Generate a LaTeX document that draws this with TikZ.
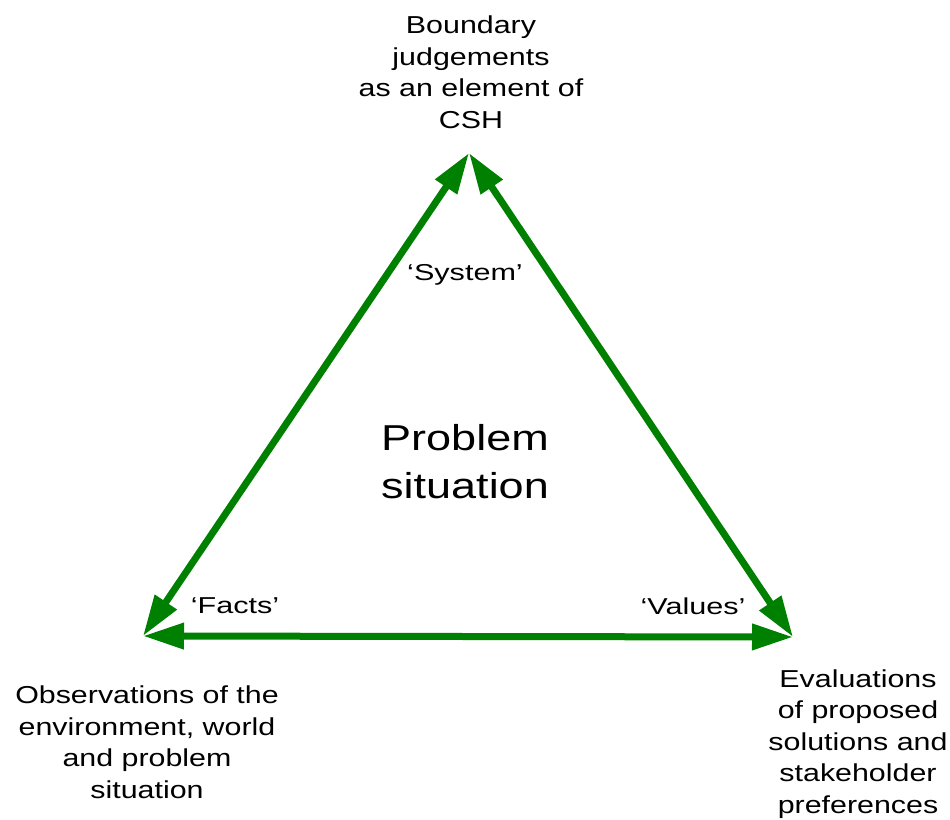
\documentclass[tikz,border=0pt]{standalone}
\usepackage{fontspec}
\setmainfont{Liberation Sans}
\newfontfamily\cornerfont[FakeStretch=1.24]{Liberation Sans}
\newfontfamily\lblfont[FakeStretch=1.33]{Liberation Sans}
\newfontfamily\bigfont[FakeStretch=1.25]{Liberation Sans}
\usetikzlibrary{arrows.meta}
\definecolor{arrgreen}{RGB}{0,128,0}
\tikzset{
  edge/.style={draw=arrgreen, line width=7pt, {Triangle[length=41pt,width=25pt]}-{Triangle[length=41pt,width=25pt]}},
  corner/.style={align=center, font=\cornerfont\fontsize{24.5}{31.5}\selectfont, inner sep=0pt},
  lbl/.style={font=\lblfont\fontsize{23}{26}\selectfont, inner sep=0pt},
  big/.style={align=center, font=\bigfont\fontsize{36}{48}\selectfont, inner sep=0pt}
}
\begin{document}
\begin{tikzpicture}[x=1pt,y=-1pt]
\useasboundingbox (0,0) rectangle (950,819);
\coordinate (top) at (469,153);
\coordinate (bl) at (143,636);
\coordinate (br) at (793,637);
\draw[edge] (bl) -- (top);
\draw[edge] (br) -- (top);
\draw[edge] (bl) -- (br);
\node[corner] (tl) at (471,72) {Boundary\\judgements\\as an element of\\CSH};
\node[corner] (bll) at (147,742) {Observations of the\\environment, world\\and problem\\situation};
\node[corner] (brl) at (858,744) {Evaluations\\of proposed\\solutions and\\stakeholder\\preferences};
\node[lbl] (sys) at (465,275) {‘System’};
\node[lbl] (fac) at (235,606) {‘Facts’};
\node[lbl] (val) at (693,606) {‘Values’};
\node[big] (ps) at (465,462) {Problem\\situation};
\end{tikzpicture}
\end{document}
